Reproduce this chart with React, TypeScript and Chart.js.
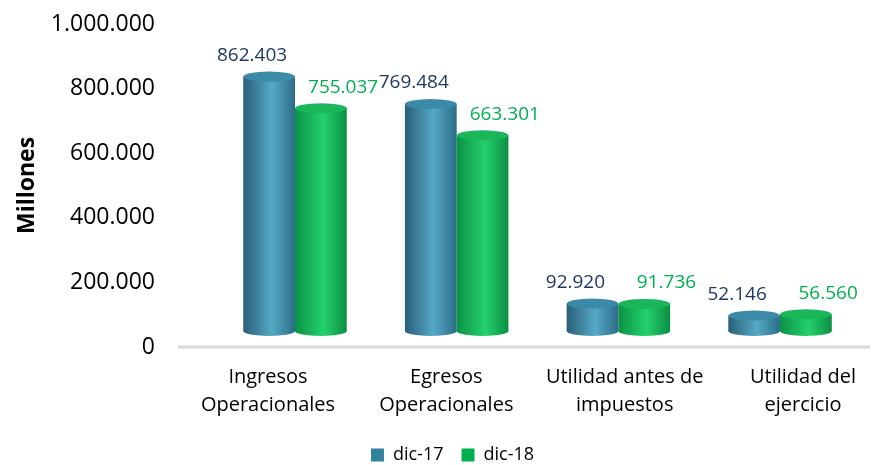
import React, { useEffect, useRef } from "react";
import { Chart, registerables } from "chart.js";

Chart.register(...registerables);

// ---- data ----
const categories: string[][] = [
  ["Ingresos", "Operacionales"],
  ["Egresos", "Operacionales"],
  ["Utilidad antes de", "impuestos"],
  ["Utilidad del", "ejercicio"],
];
const seriesNames = ["dic-17", "dic-18"];
const dic17 = [862403, 769484, 92920, 52146];
const dic18 = [755037, 663301, 91736, 56560];
const yTickMin = 0;
const yTickMax = 1000000;
const yTickStep = 200000;

const FONT = "'Open Sans', 'Noto Sans', sans-serif";

const fmt = (v: number) =>
  String(Math.round(v)).replace(/\B(?=(\d{3})+(?!\d))/g, ".");

const palettes = [
  { dark: "#295f78", light: "#55a9c6", dark2: "#2c6c88", top: "#3a8aa8", legend: "#31809c", label: "#1f3864" },
  { dark: "#0a9245", light: "#25d06e", dark2: "#0a8e42", top: "#19b75a", legend: "#00b050", label: "#00b050" },
];

function drawCylinder(ctx: CanvasRenderingContext2D, x: number, top: number, base: number, w: number, p: any) {
  const rx = w / 2;
  const ry = 5;
  const g = ctx.createLinearGradient(x - rx, 0, x + rx, 0);
  g.addColorStop(0, p.dark);
  g.addColorStop(0.55, p.light);
  g.addColorStop(1, p.dark2);
  ctx.fillStyle = g;
  ctx.beginPath();
  ctx.ellipse(x, base, rx, ry, 0, 0, Math.PI * 2);
  ctx.fill();
  ctx.fillRect(x - rx, top, w, base - top);
  ctx.fillStyle = p.top;
  ctx.beginPath();
  ctx.ellipse(x, top, rx, ry, 0, 0, Math.PI * 2);
  ctx.fill();
}

const cylinderPlugin = {
  id: "cylinders",
  beforeDatasetsDraw(chart: any) {
    const ctx: CanvasRenderingContext2D = chart.ctx;
    const yS = chart.scales.y;
    const y0 = yS.getPixelForValue(0);
    ctx.save();
    ctx.strokeStyle = "#d9d9d9";
    ctx.lineWidth = 3;
    ctx.beginPath();
    ctx.moveTo(yS.right - 90, y0);
    ctx.lineTo(chart.width - 11, y0);
    ctx.stroke();

    const nCat = categories.length;
    for (let i = 0; i < nCat; i++) {
      chart.data.datasets.forEach((_: any, d: number) => {
        const el = chart.getDatasetMeta(d).data[i];
        const { x, y, base, width } = el.getProps(["x", "y", "base", "width"], true);
        drawCylinder(ctx, x, y, base, width, palettes[d]);
      });
    }
    // value labels
    ctx.font = `19px ${FONT}`;
    ctx.textAlign = "center";
    ctx.textBaseline = "middle";
    chart.data.datasets.forEach((ds: any, d: number) => {
      const meta = chart.getDatasetMeta(d);
      meta.data.forEach((el: any, i: number) => {
        const { x, y, width } = el.getProps(["x", "y", "width"], true);
        const dx = d === 0 ? -0.33 * width : 0.43 * width;
        ctx.fillStyle = palettes[d].label;
        ctx.fillText(fmt(ds.data[i].y), x + dx, y - 21);
      });
    });
    ctx.restore();
    return false;
  },
};

export default function App() {
  const ref = useRef<HTMLCanvasElement | null>(null);
  useEffect(() => {
    if (!ref.current) return;
    const series = [dic17, dic18];
    const chart = new Chart(ref.current, {
      type: "bar",
      data: {
        labels: categories as any,
        datasets: series.map((vals, d) => ({
          label: seriesNames[d],
          data: vals.map((v, i) => ({ x: i, y: v })),
          xAxisID: "xb",
          yAxisID: "yb",
          backgroundColor: palettes[d].legend,
          borderWidth: 0,
          categoryPercentage: 0.64,
          barPercentage: 1,
        })) as any,
      },
      options: {
        animation: false,
        responsive: false,
        devicePixelRatio: 1,
        layout: { padding: { left: 24, top: 24, right: 0, bottom: 0 } },
        plugins: {
          tooltip: { enabled: false },
          legend: {
            position: "bottom",
            maxHeight: 37,
            labels: {
              font: { family: FONT, size: 18 },
              color: "#000",
              boxWidth: 13,
              boxHeight: 13,
              padding: 18,
            },
          },
        },
        scales: {
          x: {
            type: "category",
            position: "bottom",
            offset: false,
            grid: { display: false, drawTicks: true, tickLength: 8 },
            border: { display: false },
            ticks: {
              font: { family: FONT, size: 20, lineHeight: 1.4 },
              color: "#000",
              padding: 8,
              maxRotation: 0,
              minRotation: 0,
              autoSkip: false,
            },
            afterFit: (s: any) => {
              s.height = 81;
            },
          },
          y: {
            type: "linear",
            position: "left",
            min: yTickMin,
            max: yTickMax,
            grid: { display: false, drawTicks: true, tickLength: 108 },
            border: { display: false },
            ticks: {
              stepSize: yTickStep,
              font: { family: FONT, size: 23 },
              color: "#000",
              padding: 5,
              callback: (v: any) => fmt(Number(v)),
            },
            title: {
              display: true,
              text: "Millones",
              color: "#000",
              font: { family: FONT, size: 23, weight: "bold", lineHeight: 0.3 },
              padding: 0,
            },
            afterFit: (s: any) => {
              s.width = 244;
            },
          },
          yr: {
            type: "linear",
            position: "right",
            display: true,
            grid: { display: false },
            border: { display: false },
            ticks: { display: false },
            afterFit: (s: any) => {
              s.width = 78;
            },
          },
          xb: {
            type: "linear",
            display: false,
            offset: false,
            min: -0.167,
            max: 3.142,
            afterBuildTicks: (s: any) => {
              s.ticks = [{ value: s.min }, { value: s.max }];
            },
          },
          yb: {
            type: "linear",
            display: false,
            min: -54237,
            max: 1040678,
          },
        },
      } as any,
      plugins: [cylinderPlugin as any],
    });
    return () => chart.destroy();
  }, []);
  return (
    <div style={{ position: "absolute", left: 0, top: 0, width: 881, height: 465, background: "#fff" }}>
      <canvas ref={ref} width={881} height={465} />
    </div>
  );
}
